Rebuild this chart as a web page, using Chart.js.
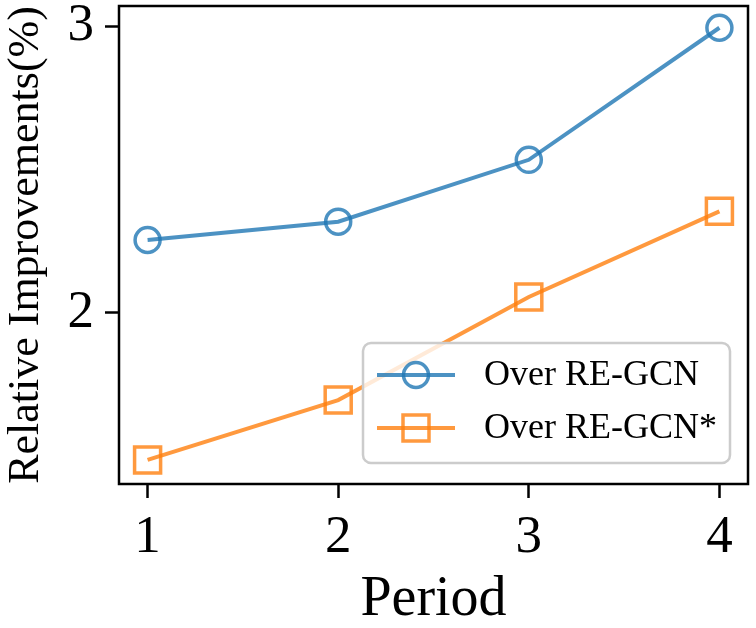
<!DOCTYPE html>
<html>
<head>
<meta charset="utf-8">
<script src="https://cdn.jsdelivr.net/npm/chart.js@4/dist/chart.umd.min.js"></script>
<style>
  html, body { margin: 0; padding: 0; background: #fff; }
  #wrap { width: 756px; height: 628px; }
</style>
</head>
<body>
<div id="wrap"><canvas id="chart" width="756" height="628"></canvas></div>
<script>
/* Relative improvements per period */
const periods = [1, 2, 3, 4];
const overREGCN = [2.254, 2.318, 2.534, 2.995];
const overREGCNStar = [1.486, 1.695, 2.055, 2.354];
const seriesLabels = ['Over RE-GCN', 'Over RE-GCN*'];
const xTicks = [1, 2, 3, 4];
const yTicks = [2, 3];

const SERIF = '"Liberation Serif", "DejaVu Serif", serif';
const BLUE = 'rgba(31,119,180,0.8)';
const ORANGE = 'rgba(255,127,14,0.8)';

function pts(ys) { return periods.map((p, i) => ({ x: p, y: ys[i] })); }

function drawMarker(ctx, style, x, y, color) {
  ctx.save();
  ctx.strokeStyle = color;
  ctx.lineWidth = 3.5;
  ctx.beginPath();
  if (style === 'circle') ctx.arc(x, y, 12.5, 0, Math.PI * 2);
  else ctx.rect(x - 13, y - 13, 26, 26);
  ctx.stroke();
  ctx.restore();
}

// fixed axis boxes, no extra room for label overhang
function fixBox(size) {
  return s => {
    if (s.isHorizontal()) s.height = size; else s.width = size;
    s.paddingTop = s.paddingBottom = s.paddingLeft = s.paddingRight = 0;
  };
}

// full box frame round the plot, like matplotlib spines
const frame = {
  id: 'frame',
  afterDraw(chart) {
    const { ctx, chartArea: a } = chart;
    ctx.save();
    ctx.strokeStyle = '#000';
    ctx.lineWidth = 2.5;
    ctx.strokeRect(a.left, a.top, a.right - a.left, a.bottom - a.top);
    ctx.restore();
  }
};

// legend box in the lower right of the plot
const boxLegend = {
  id: 'boxLegend',
  afterDraw(chart) {
    const { ctx, chartArea: a } = chart;
    const right = a.right - 18, bottom = a.bottom - 21;
    const w = 367, h = 120, left = right - w, top = bottom - h, r = 8;
    ctx.save();
    ctx.beginPath();
    ctx.moveTo(left + r, top);
    ctx.arcTo(right, top, right, bottom, r);
    ctx.arcTo(right, bottom, left, bottom, r);
    ctx.arcTo(left, bottom, left, top, r);
    ctx.arcTo(left, top, right, top, r);
    ctx.closePath();
    ctx.fillStyle = 'rgba(255,255,255,0.8)';
    ctx.fill();
    ctx.strokeStyle = '#cccccc';
    ctx.lineWidth = 2.5;
    ctx.stroke();

    chart.data.datasets.forEach((ds, i) => {
      const y = top + 32 + i * 53;
      ctx.strokeStyle = ds.borderColor;
      ctx.lineWidth = 4;
      ctx.beginPath();
      ctx.moveTo(left + 14, y);
      ctx.lineTo(left + 92, y);
      ctx.stroke();
      drawMarker(ctx, ds.pointStyle, left + 53, y, ds.borderColor);
      ctx.fillStyle = '#000';
      ctx.font = '36px ' + SERIF;
      ctx.textBaseline = 'middle';
      ctx.fillText(ds.label, left + 121, y + 1);
    });
    ctx.restore();
  }
};

const tickGrid = { drawOnChartArea: false, drawTicks: true, tickLength: 14, tickWidth: 2.5, tickColor: '#000' };

new Chart(document.getElementById('chart'), {
  type: 'line',
  data: {
    datasets: [
      {
        label: seriesLabels[0],
        data: pts(overREGCN),
        borderColor: BLUE,
        backgroundColor: 'transparent',
        borderWidth: 4,
        pointStyle: 'circle',
        pointRadius: 12.5,
        pointBorderWidth: 3.5,
        pointBorderColor: BLUE,
        pointBackgroundColor: 'transparent',
        tension: 0
      },
      {
        label: seriesLabels[1],
        data: pts(overREGCNStar),
        borderColor: ORANGE,
        backgroundColor: 'transparent',
        borderWidth: 4,
        pointStyle: 'rect',
        pointRadius: 18.4,
        pointBorderWidth: 3.5,
        pointBorderColor: ORANGE,
        pointBackgroundColor: 'transparent',
        tension: 0
      }
    ]
  },
  options: {
    responsive: false,
    animation: false,
    layout: { autoPadding: false, padding: { top: 6, right: 8, left: 0, bottom: 0 } },
    plugins: { legend: { display: false }, tooltip: { enabled: false } },
    scales: {
      x: {
        type: 'linear',
        min: 0.85,
        max: 4.15,
        afterBuildTicks: s => { s.ticks = xTicks.map(v => ({ value: v })); },
        afterFit: fixBox(144),
        grid: tickGrid,
        border: { display: false },
        ticks: { color: '#000', padding: 8, font: { family: SERIF, size: 53 } },
        title: {
          display: true,
          text: 'Period',
          color: '#000',
          padding: { top: 0, bottom: 0 },
          font: { family: SERIF, size: 56, lineHeight: 1.0 }
        }
      },
      y: {
        type: 'linear',
        min: 1.402,
        max: 3.071,
        afterBuildTicks: s => { s.ticks = yTicks.map(v => ({ value: v })); },
        afterFit: fixBox(119),
        grid: tickGrid,
        border: { display: false },
        ticks: { color: '#000', padding: 11, font: { family: SERIF, size: 53 } },
        title: {
          display: true,
          text: 'Relative Improvements(%)',
          color: '#000',
          padding: { top: 0, bottom: 0 },
          font: { family: SERIF, size: 44 }
        }
      }
    }
  },
  plugins: [frame, boxLegend]
});
</script>
</body>
</html>
